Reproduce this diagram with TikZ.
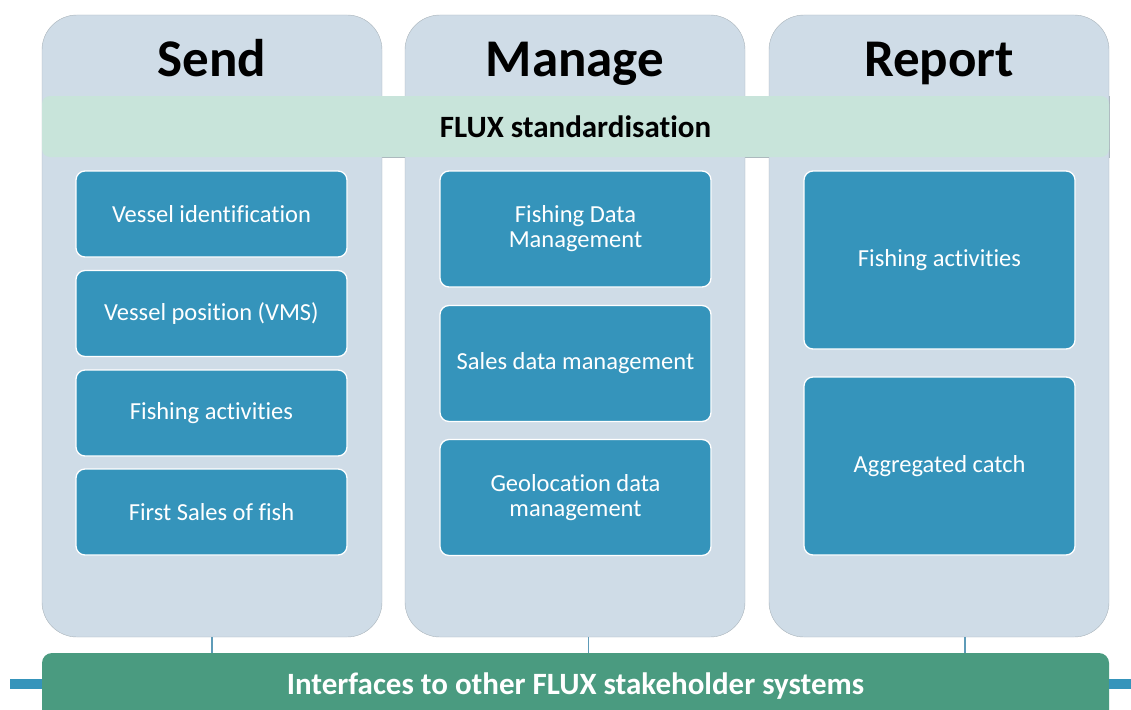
\documentclass[tikz,border=0pt]{standalone}
\usepackage{fontspec}
\setmainfont[Ligatures={NoCommon}]{Carlito}
\usetikzlibrary{positioning}
\definecolor{colfill}{HTML}{CFDCE7}
\definecolor{colline}{HTML}{A9B3BA}
\definecolor{bandgreen}{HTML}{C8E4DA}
\definecolor{taskblue}{HTML}{3594BB}
\definecolor{bargreen}{HTML}{4A9B80}
\definecolor{linkline}{HTML}{5E9BB8}
\tikzset{
  column/.style={draw=colline, fill=colfill, rounded corners=35pt, minimum width=340pt, minimum height=622pt, inner sep=0pt},
  title/.style={font=\bfseries\fontsize{53}{60}\selectfont, anchor=base},
  task/.style={draw=white, line width=1.3pt, fill=taskblue, rounded corners=9pt, minimum width=271pt, text=white, align=center, inner sep=0pt, font=\fontsize{24.5}{25}\selectfont},
  link/.style={draw=linkline, line width=1.2pt},
  stub/.style={draw=taskblue, line width=10pt},
}
\begin{document}
\begin{tikzpicture}[x=1pt,y=-1pt]
  \useasboundingbox (0,0) rectangle (1131,709);

  % band outline shows only between the columns
  \draw[colline, line width=0.8pt] (42,96) rectangle (1109,157);

  \node[column] (send) at (212,326) {};
  \node[column] (manage) at (575,326) {};
  \node[column] (report) at (939,326) {};

  \node[title] (sendt) at (212,77) {Send};
  \node[title] (managet) at (575,77) {Manage};
  \node[title] (reportt) at (939,77) {Report};

  \node[fill=bandgreen, rounded corners=8pt, minimum width=1067pt, minimum height=61pt, inner sep=0pt,
        font=\bfseries\fontsize{31}{35}\selectfont] (flux) at (575.5,126.5) {FLUX standardisation};

  % Send
  \node[task, minimum height=86pt] (vid) at (211.5,214) {Vessel identification};
  \node[task, minimum height=86pt] (vpos) at (211.5,313.5) {Vessel position (VMS)};
  \node[task, minimum height=86pt] (sfa) at (211.5,413) {Fishing activities};
  \node[task, minimum height=86pt] (sales) at (211.5,512) {First Sales of fish};

  % Manage
  \node[task, minimum height=116pt] (fdm) at (575.5,229) {Fishing Data\\Management};
  \node[task, minimum height=116pt] (sdm) at (575.5,363.5) {Sales data management};
  \node[task, minimum height=116pt] (gdm) at (575.5,497.5) {Geolocation data\\management};

  % Report
  \node[task, minimum height=178pt] (rfa) at (939.5,260) {Fishing activities};
  \node[task, minimum height=178pt] (agg) at (939.5,466) {Aggregated catch};

  \node[fill=bargreen, rounded corners=10pt, minimum width=1067pt, minimum height=70pt, inner sep=0pt] (iface) at (575.5,688) {};
  \node[text=white, font=\bfseries\fontsize{31}{35}\selectfont] (ifacet) at (575.5,686) {Interfaces to other FLUX stakeholder systems};

  \coordinate (sendlink) at (212,637);
  \coordinate (managelink) at (588.5,637);
  \coordinate (reportlink) at (965,637);
  \draw[link] (sendlink) -- (sendlink |- iface.north);
  \draw[link] (managelink) -- (managelink |- iface.north);
  \draw[link] (reportlink) -- (reportlink |- iface.north);

  \coordinate (lstub) at (10,684);
  \coordinate (rstub) at (1131,684);
  \draw[stub] (lstub) -- (lstub -| iface.west);
  \draw[stub] (iface.east |- rstub) -- (rstub);
\end{tikzpicture}
\end{document}
